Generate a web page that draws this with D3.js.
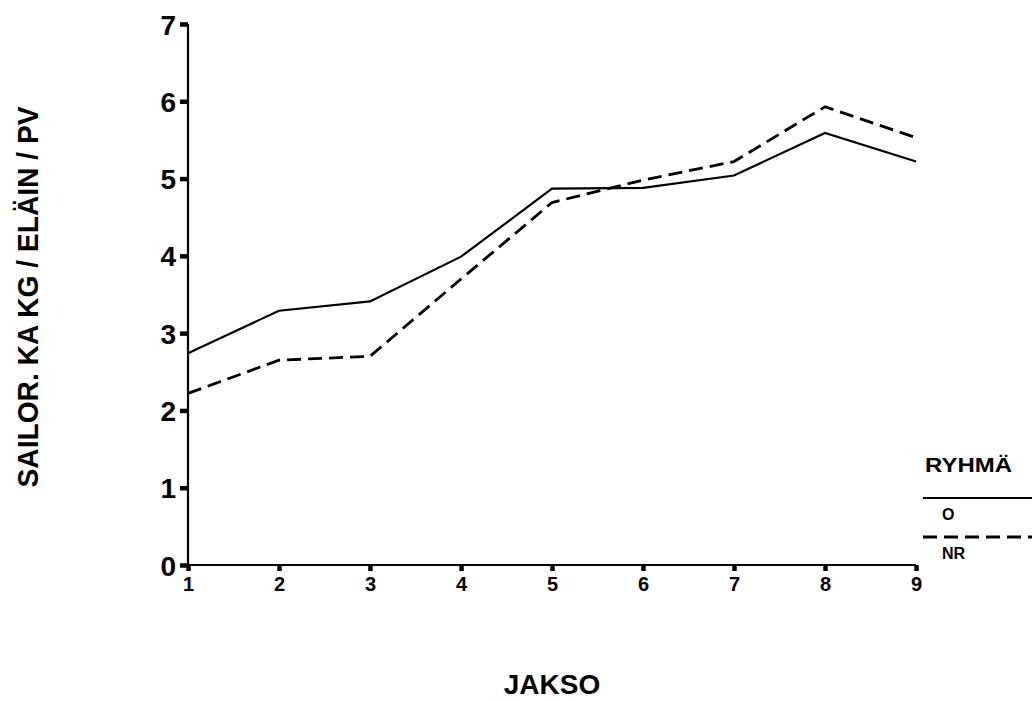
<!DOCTYPE html>
<html><head><meta charset="utf-8">
<script src="https://cdn.jsdelivr.net/npm/d3@7"></script>
<style>body{margin:0;background:#fff}</style>
</head><body>
<svg id="c" width="1032" height="701"></svg>
<script>
const periods = [1,2,3,4,5,6,7,8,9];
const seriesO  = [2.74,3.29,3.41,3.99,4.87,4.88,5.04,5.59,5.22];
const seriesNR = [2.22,2.65,2.70,3.70,4.69,4.98,5.22,5.93,5.53];
const yTicks = [0,1,2,3,4,5,6,7];
const legendTitle = "RYHMÄ";
const legendLabels = ["O","NR"];

const svg = d3.select("#c");
const x = d3.scaleLinear().domain([1,9]).range([188,916]);
const y = d3.scaleLinear().domain([0,7]).range([565,24]);
const font = "'Liberation Sans', Arial, sans-serif";

// axes
const yAxis = d3.axisLeft(y).tickValues(yTicks).tickSize(8).tickPadding(4).tickFormat(d3.format("d"));
const gy = svg.append("g").attr("transform","translate(188,0)").call(yAxis);
gy.select(".domain").attr("stroke","#000").attr("stroke-width",2.2).attr("d","M0,"+y(7)+"V"+y(0));
gy.selectAll(".tick line").attr("stroke","#000").attr("stroke-width",4.5);
gy.selectAll(".tick text").attr("font-family",font).attr("font-weight","bold").attr("font-size",28).attr("fill","#000").attr("dy","0.36em");

const xAxis = d3.axisBottom(x).tickValues(periods).tickSize(6).tickPadding(6).tickFormat(d3.format("d"));
const gx = svg.append("g").attr("transform","translate(0,565)").call(xAxis);
gx.select(".domain").attr("stroke","#000").attr("stroke-width",2.2).attr("d","M"+x(1)+",0H"+x(9));
gx.selectAll(".tick line").attr("stroke","#000").attr("stroke-width",4.5);
gx.selectAll(".tick text").attr("font-family",font).attr("font-weight","bold").attr("font-size",20).attr("fill","#000");

// lines
const line = d3.line().x((d,i)=>x(periods[i])).y(d=>y(d));
svg.append("path").datum(seriesO).attr("d",line).attr("fill","none").attr("stroke","#000").attr("stroke-width",2.2);
svg.append("path").datum(seriesNR).attr("d",line).attr("fill","none").attr("stroke","#000").attr("stroke-width",2.8).attr("stroke-dasharray","14,7");

// axis titles
svg.append("text").attr("transform","translate(38,297) rotate(-90)").attr("text-anchor","middle")
  .attr("font-family",font).attr("font-weight","bold").attr("font-size",29)
  .attr("textLength",381).attr("lengthAdjust","spacingAndGlyphs").attr("fill","#000").text("SAILOR. KA KG / ELÄIN / PV");
svg.append("text").attr("x",552).attr("y",694).attr("text-anchor","middle")
  .attr("font-family",font).attr("font-weight","bold").attr("font-size",28).attr("fill","#000").text("JAKSO");

// legend
const lg = svg.append("g");
lg.append("text").attr("x",925).attr("y",472).attr("font-family",font).attr("font-weight","bold").attr("font-size",20)
  .attr("textLength",87).attr("lengthAdjust","spacingAndGlyphs").text(legendTitle);
const legY = [498,537];
legendLabels.forEach((lab,i)=>{
  lg.append("line").attr("x1",923).attr("x2",1032).attr("y1",legY[i]).attr("y2",legY[i])
    .attr("stroke","#000").attr("stroke-width",i?2.8:2.2).attr("stroke-dasharray",i?"14,7":null);
  lg.append("text").attr("x",942).attr("y",legY[i]+22).attr("font-family",font).attr("font-weight","bold").attr("font-size",16).text(lab);
});
</script>
</body></html>
